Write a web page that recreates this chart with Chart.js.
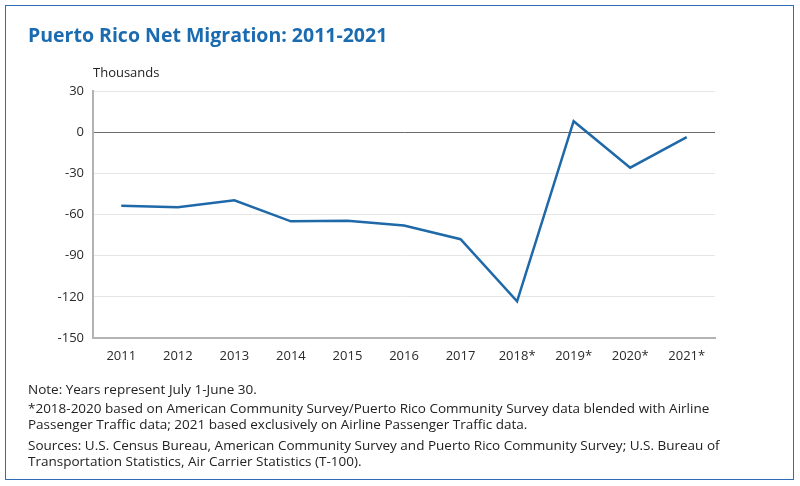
<!DOCTYPE html>
<html>
<head>
<meta charset="utf-8">
<script src="https://cdn.jsdelivr.net/npm/chart.js@4.4.1/dist/chart.umd.min.js"></script>
<style>
  html, body { margin: 0; padding: 0; background: #fff; }
  #wrap { position: relative; width: 800px; height: 486px; overflow: hidden; background: #fff; }
  #frame { position: absolute; left: 5px; top: 5px; width: 787px; height: 473px; border: 1.5px solid #2f6cb3; }
  canvas { position: absolute; left: 0; top: 0; }
  .txt { position: absolute; white-space: nowrap; font-family: "Open Sans", sans-serif; color: #222; }
  #title { left: 28px; top: 21px; font-size: 19.5px; font-weight: 700; color: #1b6bb0; }
  #units { left: 93px; top: 63px; font-size: 13px; }
  .note { left: 28px; font-size: 13.5px; }
</style>
</head>
<body>
<div id="wrap">
  <canvas id="c" width="800" height="486"></canvas>
  <div id="frame"></div>
  <div class="txt" id="title">Puerto Rico Net Migration: 2011-2021</div>
  <div class="txt" id="units">Thousands</div>
  <div class="txt note" style="top:380px">Note: Years represent July 1-June 30.</div>
  <div class="txt note" style="top:399px">*2018-2020 based on American Community Survey/Puerto Rico Community Survey data blended with Airline</div>
  <div class="txt note" style="top:415px">Passenger Traffic data; 2021 based exclusively on Airline Passenger Traffic data.</div>
  <div class="txt note" style="top:436px">Sources: U.S. Census Bureau, American Community Survey and Puerto Rico Community Survey; U.S. Bureau of</div>
  <div class="txt note" style="top:452px">Transportation Statistics, Air Carrier Statistics (T-100).</div>
</div>
<script>
const categories = ["2011","2012","2013","2014","2015","2016","2017","2018*","2019*","2020*","2021*"];
const netMigration = [-53.6, -54.7, -49.6, -65.0, -64.6, -68.0, -78.0, -123.3, 8.0, -25.9, -3.6];
const yMin = -150, yMax = 30, yStep = 30;

new Chart(document.getElementById('c'), {
  type: 'line',
  data: {
    labels: categories,
    datasets: [{
      data: netMigration,
      borderColor: '#1f69a9',
      borderWidth: 2.5,
      pointRadius: 0,
      tension: 0,
      fill: false
    }]
  },
  options: {
    responsive: false,
    animation: false,
    devicePixelRatio: 1,
    layout: { padding: { left: 43, top: 91, right: 85, bottom: 120 } },
    plugins: { legend: { display: false }, tooltip: { enabled: false } },
    scales: {
      x: {
        offset: true,
        grid: { display: true, color: 'rgba(0,0,0,0)', drawTicks: false, offset: true },
        border: { display: true, color: '#b3b3b3', width: 2 },
        ticks: { color: '#2a2a2a', padding: 10, font: { family: 'Open Sans', size: 13 }, maxRotation: 0, autoSkip: false },
        afterFit: s => { s.height = 28; }
      },
      y: {
        min: yMin, max: yMax,
        grid: {
          drawTicks: false,
          color: ctx => (ctx.tick && ctx.tick.value === 0) ? '#6b6b6b' : '#e6e6e6',
          lineWidth: 1
        },
        border: { display: true, color: '#b3b3b3', width: 2 },
        ticks: { stepSize: yStep, color: '#2a2a2a', padding: 9, font: { family: 'Open Sans', size: 13 } },
        afterFit: s => { s.width = 50; }
      }
    }
  }
});
</script>
</body>
</html>
